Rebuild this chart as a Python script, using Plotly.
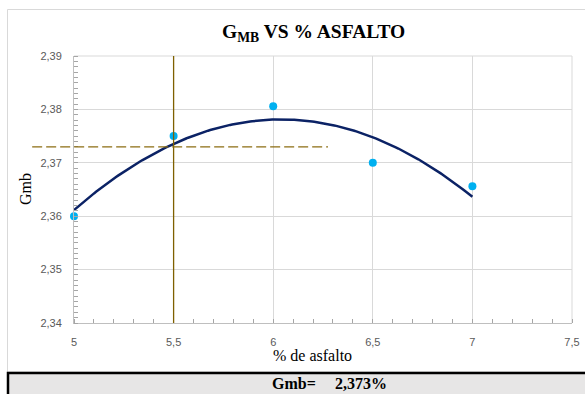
import numpy as np
import plotly.graph_objects as go

asfalto = [5, 5.5, 6, 6.5, 7]
gmb = [2.360, 2.375, 2.3806, 2.370, 2.3656]
gmb_opt = 2.373
asfalto_opt = 5.5
x_range = [5, 7.5]
y_range = [2.34, 2.39]
dash_x = [4.79, 6.275]

coef = np.polyfit(asfalto, gmb, 2)
xf = np.linspace(min(asfalto), max(asfalto), 200)
yf = np.polyval(coef, xf)

W, H = 585, 394
L, R, T, B = 74, 13, 56, 71
PW, PH = W - L - R, H - T - B

def px(x):
    return (x - L) / PW

def py(y):
    return (H - B - y) / PH

fig = go.Figure()
fig.add_trace(go.Scatter(x=xf, y=yf, mode="lines",
                         line=dict(color="#0B2265", width=2.5), showlegend=False))
fig.add_trace(go.Scatter(x=asfalto, y=gmb, mode="markers",
                         marker=dict(color="#00B0F0", size=8), showlegend=False,
                         cliponaxis=False))

def to_paper(v):
    return (v - x_range[0]) / (x_range[1] - x_range[0])

fig.add_shape(type="line", xref="x", yref="paper", x0=asfalto_opt, x1=asfalto_opt,
              y0=0, y1=1, line=dict(color="#7F6000", width=1.3))
fig.add_shape(type="line", xref="paper", yref="y", x0=to_paper(dash_x[0]), x1=to_paper(dash_x[1]),
              y0=gmb_opt, y1=gmb_opt, line=dict(color="#8C6D12", width=1.3, dash="10px,4px"))

# outer chart border
fig.add_shape(type="rect", xref="paper", yref="paper",
              x0=px(7.5), x1=px(600), y0=py(9.5), y1=py(372),
              line=dict(color="#D9D9D9", width=1), fillcolor="rgba(0,0,0,0)", layer="below")
# bottom result box
fig.add_shape(type="rect", xref="paper", yref="paper",
              x0=px(8), x1=px(600), y0=py(373), y1=py(400),
              line=dict(color="black", width=2.5), fillcolor="#E7E6E6")
fig.add_annotation(xref="paper", yref="paper", x=px(270), y=py(384),
                   text="<b>Gmb=</b>", showarrow=False, xanchor="left", yanchor="middle",
                   font=dict(family="Liberation Serif", size=16, color="black"))
fig.add_annotation(xref="paper", yref="paper", x=px(333), y=py(384),
                   text="<b>2,373%</b>", showarrow=False, xanchor="left", yanchor="middle",
                   font=dict(family="Liberation Serif", size=16, color="black"))
# axis titles
fig.add_annotation(xref="paper", yref="paper", x=px(312.5), y=py(355),
                   text="% de asfalto", showarrow=False, xanchor="center", yanchor="middle",
                   font=dict(family="Liberation Serif", size=16, color="black"))
fig.add_annotation(xref="paper", yref="paper", x=px(25), y=py(189),
                   text="Gmb", showarrow=False, xanchor="center", yanchor="middle", textangle=-90,
                   font=dict(family="Liberation Serif", size=16, color="black"))
# title
fig.add_annotation(xref="paper", yref="paper", x=px(313), y=py(33),
                   text="<b>G<sub>MB</sub> VS % ASFALTO</b>", showarrow=False,
                   xanchor="center", yanchor="middle",
                   font=dict(family="Liberation Serif", size=19.5, color="black"))

fig.update_layout(
    width=W, height=H,
    margin=dict(l=L, r=R, t=T, b=B, autoexpand=False),
    paper_bgcolor="white", plot_bgcolor="white",
    separators=",.",
    xaxis=dict(range=x_range, dtick=0.5, showgrid=True, gridcolor="#D9D9D9", gridwidth=1,
               showline=True, linecolor="#BFBFBF", zeroline=False, automargin=False,
               ticks="outside", ticklen=9, tickcolor="rgba(0,0,0,0)",
               tickfont=dict(family="Liberation Sans", size=11, color="#595959"),
               minor=dict(dtick=0.1, ticks="inside", ticklen=4, tickcolor="#A6A6A6", showgrid=False)),
    yaxis=dict(range=y_range, dtick=0.01, tickformat=".2f", showgrid=True, gridcolor="#D9D9D9",
               gridwidth=1, showline=True, linecolor="#BFBFBF", zeroline=False, automargin=False,
               ticks="outside", ticklen=9, tickcolor="rgba(0,0,0,0)",
               tickfont=dict(family="Liberation Sans", size=11, color="#595959"),
               minor=dict(dtick=0.001, ticks="inside", ticklen=4, tickcolor="#A6A6A6", showgrid=False)),
)
fig.add_shape(type="line", xref="paper", yref="paper", x0=1, x1=1, y0=0, y1=1,
              line=dict(color="#D9D9D9", width=1), layer="below")
fig.add_shape(type="line", xref="paper", yref="paper", x0=0, x1=1, y0=1, y1=1,
              line=dict(color="#D9D9D9", width=1), layer="below")

fig.write_html("out.html", config={"displayModeBar": False},
               post_script="document.body.style.margin='0';document.body.style.overflow='hidden';")
